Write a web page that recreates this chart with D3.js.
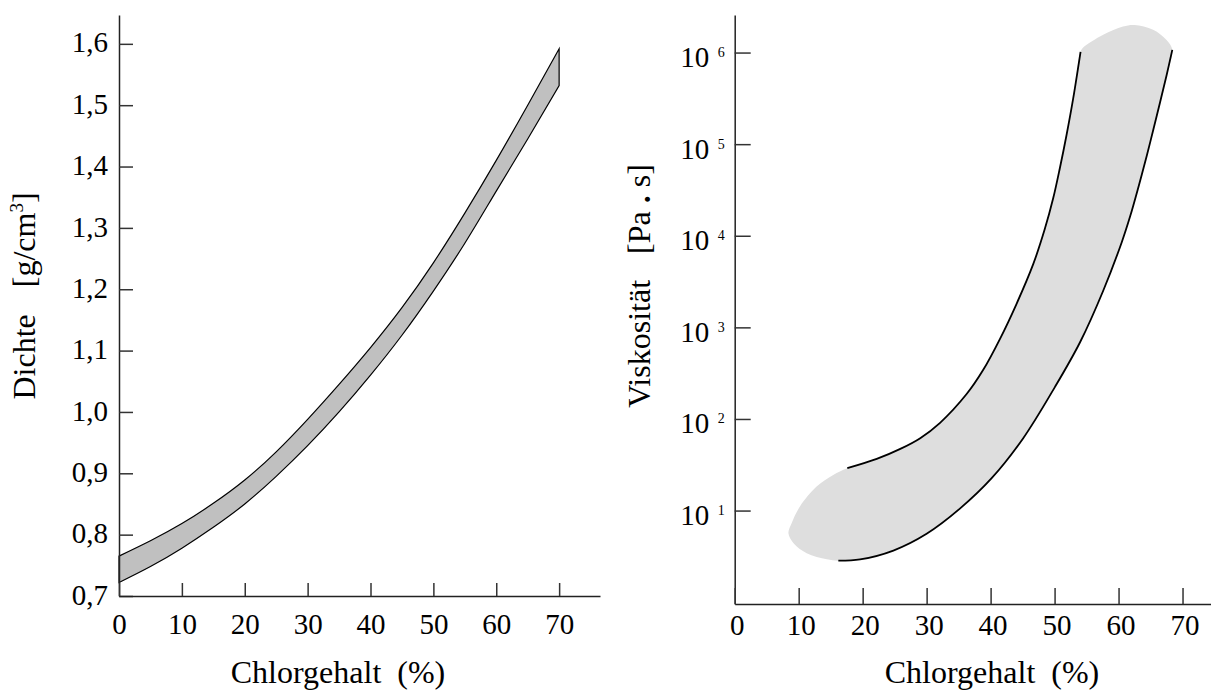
<!DOCTYPE html>
<html><head><meta charset="utf-8">
<script src="https://cdn.jsdelivr.net/npm/d3@7"></script>
<style>
body{margin:0;background:#fff}
svg{display:block}
text{font-family:"Liberation Serif","DejaVu Serif",serif;fill:#000}
</style>
</head><body>
<svg id="c" width="1211" height="691"></svg>
<script>
// ---------- Left chart: Dichte ----------
const densX     = [0, 5, 10, 15, 20, 25, 30, 35, 40, 45, 50, 55, 60, 65, 70];
const densUpper = [0.765, 0.79, 0.818, 0.851, 0.889, 0.935, 0.988, 1.045, 1.105, 1.17, 1.243, 1.324, 1.41, 1.5, 1.592];
const densLower = [0.722, 0.748, 0.778, 0.812, 0.85, 0.895, 0.945, 1.0, 1.06, 1.125, 1.197, 1.275, 1.36, 1.445, 1.532];
const densYTicks = [0.7, 0.8, 0.9, 1.0, 1.1, 1.2, 1.3, 1.4, 1.5, 1.6];
const xTicks = [0, 10, 20, 30, 40, 50, 60, 70];

// ---------- Right chart: Viskosität ----------
const viscUpperX = [17.6, 22.2, 25.8, 29.0, 32.1, 36.25, 38.85, 41.45, 44.06, 46.66, 48.48, 49.79, 50.83, 51.87, 52.91, 54.06];
const viscUpperV = [29.0, 36.6, 46.8, 61.7, 90.8, 187, 344, 745, 1810, 4900, 11900, 25800, 55000, 126000, 316000, 1020000];
const viscLowerX = [16.2, 19.6, 24.8, 30.0, 35.2, 40.2, 45.1, 50.0, 54.0, 57.6, 60.5, 61.8, 63.1, 64.4, 65.4, 66.5, 67.5, 68.4];
const viscLowerV = [2.84, 2.93, 3.66, 5.58, 10.5, 22.7, 61.7, 220, 692, 2510, 8510, 16200, 33900, 74100, 141000, 288000, 562000, 1070000];
const viscCapX = [54.4, 57.6, 60.7, 62.5, 65.4, 67.5];
const viscCapV = [1.12e6, 1.56e6, 1.92e6, 2.0e6, 1.77e6, 1.37e6];
const viscBulbX = [14.4, 11.25, 9.2, 8.4, 8.9, 10.2, 12.8, 15.4];
const viscBulbV = [2.94, 3.43, 4.41, 5.66, 7.28, 11.1, 18.3, 24.5];
const viscYTicks = [1e1, 1e2, 1e3, 1e4, 1e5, 1e6];

const svg = d3.select("#c");
const TICKFONT = 29, TITLEFONT = 32;

// ===== Left =====
const xL = d3.scaleLinear().domain([0, 76.5]).range([119, 600]);
const yL = d3.scaleLinear().domain([0.7, 1.647]).range([596, 15]);

const band = densX.map((x, i) => ({x, hi: densUpper[i], lo: densLower[i]}));
svg.append("path")
  .datum(band)
  .attr("d", d3.area().x(d => xL(d.x)).y0(d => yL(d.lo)).y1(d => yL(d.hi)).curve(d3.curveNatural))
  .attr("fill", "#c0c0c0").attr("stroke", "#000").attr("stroke-width", 1.2);

const gyL = svg.append("g").attr("transform", `translate(${xL(0)},0)`)
  .call(d3.axisLeft(yL).tickValues(densYTicks).tickSizeInner(-14).tickSizeOuter(0).tickPadding(11)
    .tickFormat(d => d3.format(".1f")(d).replace(".", ",")));
const gxL = svg.append("g").attr("transform", `translate(0,${yL(0.7)})`)
  .call(d3.axisBottom(xL).tickValues(xTicks).tickSizeInner(-13).tickSizeOuter(0).tickPadding(17));
[gyL, gxL].forEach(g => {
  g.attr("font-size", TICKFONT).attr("font-family", null);
  g.select(".domain").attr("stroke", "#222").attr("stroke-width", 1.5);
  g.selectAll(".tick line").attr("stroke", "#333").attr("stroke-width", 1.5);
  g.selectAll(".tick text").attr("fill", "#000");
});
gyL.selectAll(".tick text").attr("dy", "0.28em");

const xtL = svg.append("text").attr("x", 338).attr("y", 683).attr("text-anchor", "middle")
  .attr("font-size", TITLEFONT);
xtL.append("tspan").text("Chlorgehalt");
xtL.append("tspan").attr("dx", 16).text("(%)");

const tL = svg.append("text").attr("transform", "translate(35,296) rotate(-90)")
  .attr("text-anchor", "middle").attr("font-size", TITLEFONT);
tL.append("tspan").text("Dichte");
tL.append("tspan").attr("dx", 27).text("[g/cm");
tL.append("tspan").attr("font-size", 19).attr("dy", -12).text("3");
tL.append("tspan").attr("dy", 12).text("]");

// ===== Right =====
const xR = d3.scaleLinear().domain([0, 74.45]).range([734.7, 1211]);
const yR = d3.scaleLog().domain([Math.pow(10, -0.02), Math.pow(10, 6.41)]).range([604, 15]);

const upper = viscUpperX.map((x, i) => [x, viscUpperV[i]]);
const lower = viscLowerX.map((x, i) => [x, viscLowerV[i]]);
const cap = viscCapX.map((x, i) => [x, viscCapV[i]]);
const bulb = viscBulbX.map((x, i) => [x, viscBulbV[i]]);
const outline = [...upper, ...cap, ...lower.slice().reverse(), ...bulb];

svg.append("path").datum(outline)
  .attr("d", d3.line().x(d => xR(d[0])).y(d => yR(d[1])).curve(d3.curveCatmullRomClosed.alpha(0.5)))
  .attr("fill", "#dedede").attr("stroke", "none");

const lineR = d3.line().x(d => xR(d[0])).y(d => yR(d[1])).curve(d3.curveCatmullRom.alpha(0.5));
[upper, lower].forEach(arr => {
  svg.append("path").datum(arr).attr("d", lineR)
    .attr("fill", "none").attr("stroke", "#000").attr("stroke-width", 1.8);
});

const gyR = svg.append("g").attr("transform", `translate(${xR(0)},0)`)
  .call(d3.axisLeft(yR).tickValues(viscYTicks).tickSizeInner(-16).tickSizeOuter(0).tickPadding(10).tickFormat(""));
const gxR = svg.append("g").attr("transform", `translate(0,${yR(Math.pow(10, -0.02))})`)
  .call(d3.axisBottom(xR).tickValues(xTicks).tickSizeInner(-16).tickSizeOuter(0).tickPadding(10));
[gyR, gxR].forEach(g => {
  g.attr("font-size", TICKFONT).attr("font-family", null);
  g.select(".domain").attr("stroke", "#222").attr("stroke-width", 1.5);
  g.selectAll(".tick line").attr("stroke", "#333").attr("stroke-width", 1.5);
  g.selectAll(".tick text").attr("fill", "#000");
});
gxR.selectAll(".tick text").attr("dx", 2);
gyR.selectAll(".tick text").each(function(d) {
  const t = d3.select(this).attr("dy", null).text(null);
  t.append("tspan").attr("dy", 14).text("10");
  t.append("tspan").attr("dx", 8.5).attr("dy", -10).attr("font-size", 14).text(String(Math.round(Math.log10(d))));
});

const xtR = svg.append("text").attr("x", 992).attr("y", 683).attr("text-anchor", "middle")
  .attr("font-size", TITLEFONT);
xtR.append("tspan").text("Chlorgehalt");
xtR.append("tspan").attr("dx", 16).text("(%)");

const tR = svg.append("text").attr("transform", "translate(650,286) rotate(-90)")
  .attr("text-anchor", "middle").attr("font-size", TITLEFONT);
tR.append("tspan").text("Viskosität");
tR.append("tspan").attr("dx", 26).text("[Pa ");
tR.append("tspan").attr("font-weight", "bold").text(".");
tR.append("tspan").text(" s]");
</script>
</body></html>
